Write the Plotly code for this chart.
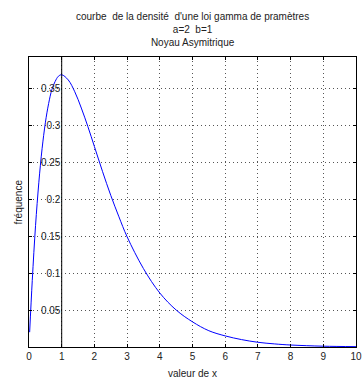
import plotly.graph_objects as go

# Gamma density (a=2, b=1) read at sample points
x_vals = [0.02, 0.1, 0.2, 0.3, 0.4, 0.5, 0.6, 0.7, 0.8, 0.9, 1.0, 1.2, 1.4, 1.6,
          1.8, 2.0, 2.25, 2.5, 2.75, 3.0, 3.5, 4.0, 4.5, 5.0, 5.5, 6.0, 6.5,
          7.0, 7.5, 8.0, 9.0, 10.0]
density = [0.02, 0.09, 0.164, 0.222, 0.268, 0.303, 0.329, 0.348, 0.359, 0.366,
           0.368, 0.361, 0.345, 0.323, 0.298, 0.271, 0.237, 0.205, 0.176, 0.149,
           0.106, 0.073, 0.050, 0.034, 0.022, 0.015, 0.010, 0.0064, 0.0042,
           0.0027, 0.0011, 0.0005]
mode_x = 1
x_ticks = list(range(0, 11))
y_grid = [0.05, 0.1, 0.15, 0.2, 0.25, 0.3, 0.35]
y_labels = ["0.05", "0.1", "0.15", "0.2", "0.25", "0.3", "0.35"]

FONT = "Liberation Sans, Arial, sans-serif"
TXT = "#222222"

fig = go.Figure()
fig.add_trace(go.Scatter(
    x=x_vals, y=density, mode="lines", line=dict(color="#0000ff", width=1, shape="spline"),
    hoverinfo="skip", showlegend=False,
))

fig.add_shape(type="line", xref="x", yref="paper", x0=mode_x, x1=mode_x, y0=0, y1=1,
              line=dict(color="black", width=1))

fig.update_layout(
    width=363, height=379,
    margin=dict(l=29, r=1, t=57, b=32),
    paper_bgcolor="white", plot_bgcolor="white",
    font=dict(family=FONT, size=10, color=TXT),
    showlegend=False,
    xaxis=dict(
        range=[0, 10], tickvals=x_ticks, ticks="inside", ticklen=3, tickcolor="black",
        showline=True, linecolor="black", linewidth=1, mirror="ticks",
        showgrid=True, gridcolor="#555555", griddash="1px,3px", gridwidth=1,
        zeroline=False, tickfont=dict(size=10, color=TXT), ticklabeloverflow="allow",
    ),
    yaxis=dict(
        range=[0, 0.392], tickvals=y_grid, ticks="inside", ticklen=3, tickcolor="black",
        showline=True, linecolor="black", linewidth=1, mirror="ticks",
        showgrid=True, gridcolor="#555555", griddash="1px,3px", gridwidth=1,
        zeroline=False, showticklabels=False,
    ),
    yaxis2=dict(
        overlaying="y", matches="y", anchor="free", position=0.096, side="left",
        tickvals=y_grid, ticktext=y_labels, ticks="", showgrid=False, showline=False,
        zeroline=False, tickfont=dict(size=10, color=TXT),
    ),
    annotations=[
        dict(text="courbe  de la densité  d'une loi gamma de pramètres<br>a=2  b=1<br>Noyau Asymitrique",
             xref="paper", yref="paper", x=0.5, y=1, yshift=7, xanchor="center", yanchor="bottom",
             showarrow=False, font=dict(size=10, color=TXT)),
        dict(text="valeur de x", xref="paper", yref="paper", x=0.5, y=0, yshift=-26,
             xanchor="center", yanchor="middle", showarrow=False, font=dict(size=10, color=TXT)),
        dict(text="fréquence", xref="paper", yref="paper", x=0, y=0.5, xshift=-11.5,
             xanchor="center", yanchor="middle", textangle=-90, showarrow=False,
             font=dict(size=10, color=TXT)),
    ],
)
fig.add_trace(go.Scatter(x=x_vals, y=density, yaxis="y2", mode="lines", line=dict(width=0),
                         opacity=0, hoverinfo="skip", showlegend=False))

fig.write_html("out.html")
